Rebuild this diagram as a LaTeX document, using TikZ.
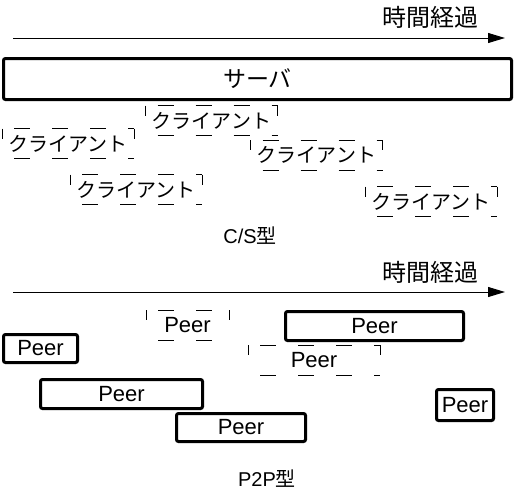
\documentclass[tikz,border=0pt]{standalone}
\usepackage{fontspec}
\setmainfont{Liberation Sans}
\newfontfamily\jpfont{Noto Sans CJK JP}
\usetikzlibrary{arrows.meta}
\tikzset{
  timeline/.style={line width=1pt, -{Triangle[length=17pt,width=10pt]}},
  solidbox/.style={draw, line width=3pt, rounded corners=2pt, inner sep=0pt},
  dashbox/.style={inner sep=0pt, outer sep=0pt},
  dashside/.style={line width=1pt, dash pattern=on 16pt off 22pt},
  clientbox/.style={dashbox, minimum width=132pt, minimum height=30pt,
    font=\jpfont\fontsize{20}{20}\selectfont},
  peerfont/.style={font=\fontsize{22}{22}\selectfont},
  jplabel/.style={font=\jpfont\fontsize{24}{24}\selectfont},
  caption/.style={font=\fontsize{20}{20}\selectfont},
}
\begin{document}
\begin{tikzpicture}[x=1pt,y=-1pt]
  \useasboundingbox (0,0) rectangle (515,499);
  % C/S
  \coordinate (cs start) at (13,38);
  \coordinate (cs end) at (505,38);
  \draw[timeline] (cs start) -- (cs end);
  \node[jplabel] (cs time) at (430,17) {時間経過};
  \node[solidbox, minimum width=508pt, minimum height=41pt,
    font=\jpfont\fontsize{23}{23}\selectfont] (server) at (257.5,79) {サーバ};
  \node[clientbox] (client1) at (68,143.5) {クライアント};
  \node[clientbox] (client2) at (211.5,120.5) {クライアント};
  \node[clientbox] (client3) at (316.5,155) {クライアント};
  \node[clientbox] (client4) at (431,201.5) {クライアント};
  \node[clientbox] (client5) at (136,189.5) {クライアント};
  \node[caption] (cs name) at (250,236) {C/S{\jpfont 型}};
  % P2P
  \coordinate (p2p start) at (13,292);
  \coordinate (p2p end) at (505,292);
  \draw[timeline] (p2p start) -- (p2p end);
  \node[jplabel] (p2p time) at (430,272) {時間経過};
  \node[solidbox, peerfont, minimum width=74pt, minimum height=28pt] (peer1) at (40.5,348.5) {Peer};
  \node[solidbox, peerfont, minimum width=162pt, minimum height=29pt] (peer2) at (121.5,394) {Peer};
  \node[solidbox, peerfont, minimum width=129pt, minimum height=28pt] (peer3) at (241,427.5) {Peer};
  \node[solidbox, peerfont, minimum width=57pt, minimum height=31pt] (peer4) at (465,405) {Peer};
  \node[solidbox, peerfont, minimum width=178pt, minimum height=29pt] (peer5) at (374.5,326) {Peer};
  \node[dashbox, peerfont, minimum width=83pt, minimum height=30pt] (peer6) at (187.5,325) {Peer};
  \node[dashbox, peerfont, minimum width=132pt, minimum height=30pt] (peer7) at (314,360) {Peer};
  \node[caption] (p2p name) at (267,479) {P2P{\jpfont 型}};
  % dashed frames, one side at a time
  \foreach \n in {client1,client2,client3,client4,client5,peer6,peer7} {
    \draw[dashside, dash phase=26pt] (\n.north west) -- (\n.north east);
    \draw[dashside, dash phase=26pt] (\n.south west) -- (\n.south east);
    \draw[dashside, dash phase=6pt] (\n.north west) -- (\n.south west);
    \draw[dashside, dash phase=6pt] (\n.north east) -- (\n.south east);
  }
\end{tikzpicture}
\end{document}
